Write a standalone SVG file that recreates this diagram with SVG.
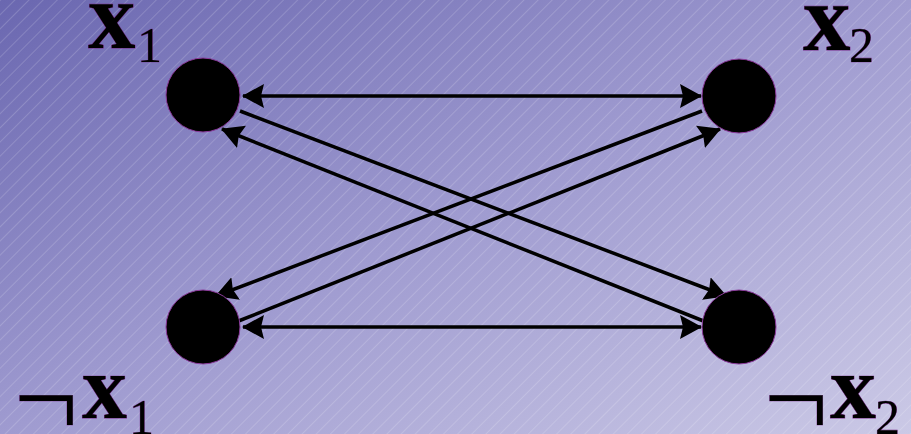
<svg xmlns="http://www.w3.org/2000/svg" width="911" height="434" viewBox="0 0 911 434">
<style>
.node{fill:#000;stroke:#8a3a9a;stroke-width:1}
.edge{stroke:#000;stroke-width:3.5;fill:none}
.lbl{font-family:"Liberation Serif","DejaVu Serif",serif;font-weight:bold;fill:#000;stroke:#7a2a8a;stroke-width:0.8;paint-order:stroke}
.neg{font-family:"Liberation Serif","DejaVu Serif",serif;fill:#000;stroke:#7a2a8a;stroke-width:0.6;paint-order:stroke}
.sub{font-family:"Liberation Serif","DejaVu Serif",serif;fill:#000;stroke:#7a2a8a;stroke-width:0.6;paint-order:stroke}
</style>
<defs>
<linearGradient id="bg" x1="0" y1="0" x2="1" y2="1">
<stop offset="0" stop-color="#6a67b0"/>
<stop offset="0.5" stop-color="#9f9bd0"/>
<stop offset="1" stop-color="#cbc9e6"/>
</linearGradient>
<pattern id="hatch" width="10" height="10" patternUnits="userSpaceOnUse" patternTransform="rotate(45)">
<line x1="0" y1="0" x2="0" y2="10" stroke="#ffffff" stroke-opacity="0.4" stroke-width="0.8"/>
</pattern>
<marker id="ah" viewBox="0 0 22 24" refX="21" refY="12" markerWidth="22" markerHeight="24" markerUnits="userSpaceOnUse" orient="auto-start-reverse">
<path d="M0,0 L22,12 L0,24 L3,12 Z" fill="#000"/>
</marker>
</defs>
<rect width="911" height="434" fill="url(#bg)"/>
<rect width="911" height="434" fill="url(#hatch)"/>
<g id="connectors">
<line class="edge" x1="243" y1="96" x2="701" y2="96" marker-start="url(#ah)" marker-end="url(#ah)"/>
<line class="edge" x1="243" y1="327" x2="701" y2="327" marker-start="url(#ah)" marker-end="url(#ah)"/>
<line class="edge" x1="240" y1="111" x2="726" y2="296" marker-end="url(#ah)"/>
<line class="edge" x1="706" y1="322" x2="222" y2="129" marker-end="url(#ah)"/>
<line class="edge" x1="702" y1="111" x2="216" y2="296" marker-end="url(#ah)"/>
<line class="edge" x1="236" y1="322" x2="720" y2="129" marker-end="url(#ah)"/>
</g>
<g id="n_x1"><circle class="node" cx="203" cy="95" r="37"/></g>
<g id="n_x2"><circle class="node" cx="739" cy="96" r="37"/></g>
<g id="n_nx1"><circle class="node" cx="203" cy="327" r="37"/></g>
<g id="n_nx2"><circle class="node" cx="739" cy="327" r="37"/></g>
<g id="labels">
<text class="lbl" x="88" y="48" font-size="95">x</text><text class="sub" x="137" y="62" font-size="50">1</text>
<text class="lbl" x="803" y="50" font-size="95">x</text><text class="sub" x="849" y="62" font-size="50">2</text>
<text class="neg" x="14" y="436" font-size="114">¬</text><text class="lbl" x="82" y="418" font-size="90">x</text><text class="sub" x="129" y="434" font-size="50">1</text>
<text class="neg" x="764" y="436" font-size="114">¬</text><text class="lbl" x="830" y="418" font-size="92">x</text><text class="sub" x="875" y="434" font-size="50">2</text>
</g>
</svg>
